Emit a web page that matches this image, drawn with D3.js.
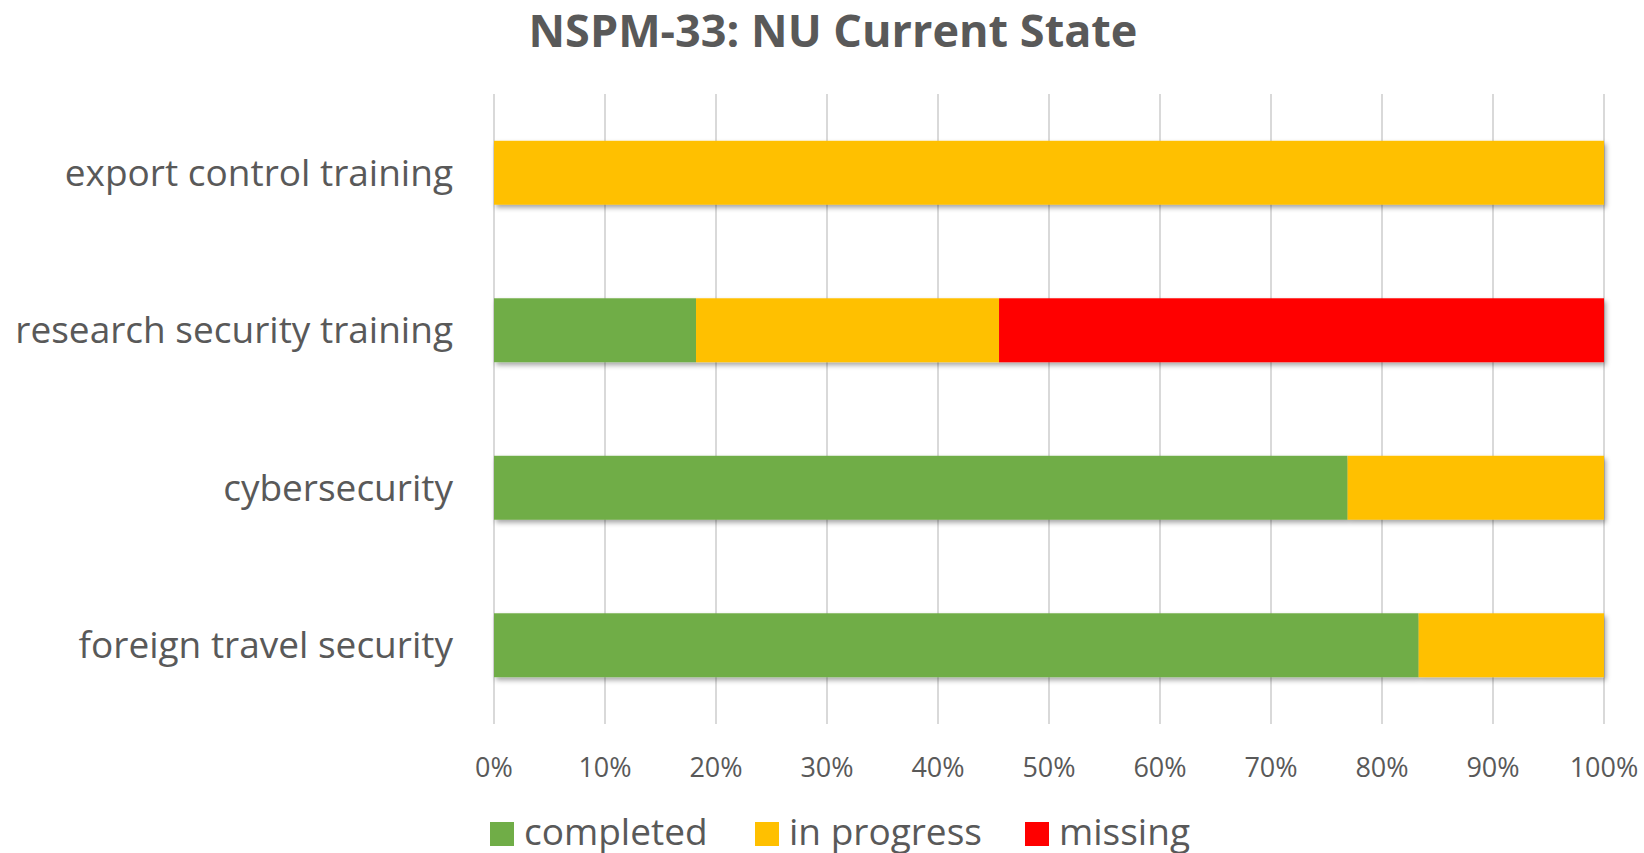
<!DOCTYPE html>
<html>
<head>
<meta charset="utf-8">
<script src="https://cdn.jsdelivr.net/npm/d3@7"></script>
<style>
  body { margin: 0; background: #fff; }
  text { font-family: "Open Sans", sans-serif; fill: #595959; }
</style>
</head>
<body>
<div id="chart"></div>
<script>
let categories = ["export control training", "research security training", "cybersecurity", "foreign travel security"]
let seriesNames = ["completed", "in progress", "missing"]
let completed = [0, 18.2, 76.9, 83.3]
let inProgress = [100, 27.3, 23.1, 16.7]
let missing = [0, 54.5, 0, 0]
let ticks = [0, 10, 20, 30, 40, 50, 60, 70, 80, 90, 100]
let colors = ["#70AD47", "#FFC000", "#FF0000"]

let width = 1644
let height = 853

let svg = d3.select("#chart")
    .append("svg")
    .attr("width", width)
    .attr("height", height)

// soft shadow under the bars
let filter = svg.append("defs").append("filter")
    .attr("id", "shadow")
    .attr("x", "-5%").attr("y", "-20%")
    .attr("width", "110%").attr("height", "160%")
filter.append("feDropShadow")
    .attr("dx", 2).attr("dy", 3)
    .attr("stdDeviation", 2.5)
    .attr("flood-color", "#000")
    .attr("flood-opacity", 0.35)

let x = d3.scaleLinear().domain([0, 100]).range([494, 1604])
let y = d3.scaleBand().domain(categories).range([94, 724])
    .paddingInner(0.594).paddingOuter(0.297)

// title
svg.append("text")
    .attr("x", 833)
    .attr("y", 47)
    .attr("text-anchor", "middle")
    .style("font-size", "45px")
    .style("font-weight", "bold")
    .text("NSPM-33: NU Current State")

// gridlines
svg.append("g")
    .selectAll("line")
    .data(ticks)
    .join("line")
    .attr("x1", d => x(d))
    .attr("x2", d => x(d))
    .attr("y1", 94)
    .attr("y2", 724)
    .attr("stroke", "#d9d9d9")
    .attr("stroke-width", 2)

// tick labels
svg.append("g")
    .selectAll("text")
    .data(ticks)
    .join("text")
    .attr("x", d => x(d))
    .attr("y", 777)
    .attr("text-anchor", "middle")
    .style("font-size", "27px")
    .text(d => d + "%")

// category labels
svg.append("g")
    .selectAll("text")
    .data(categories)
    .join("text")
    .attr("x", 453)
    .attr("y", d => y(d) + y.bandwidth() / 2)
    .attr("dy", 13)
    .attr("text-anchor", "end")
    .style("font-size", "37px")
    .text(d => d)

// stacked bars
let rows = categories.map((c, i) => ({
    category: c,
    "completed": completed[i],
    "in progress": inProgress[i],
    "missing": missing[i]
}))
let stacked = d3.stack().keys(seriesNames)(rows)

let bars = svg.append("g").attr("filter", "url(#shadow)")
bars.selectAll("g")
    .data(stacked)
    .join("g")
    .attr("fill", (d, i) => colors[i])
    .selectAll("rect")
    .data(d => d.filter(p => p[1] > p[0]))
    .join("rect")
    .attr("x", d => x(d[0]))
    .attr("width", d => x(d[1]) - x(d[0]))
    .attr("y", d => y(d.data.category))
    .attr("height", y.bandwidth())

// legend
let legendX = [490, 755, 1025]
let legend = svg.append("g")
    .selectAll("g")
    .data(seriesNames)
    .join("g")
    .attr("transform", (d, i) => "translate(" + legendX[i] + ",0)")
legend.append("rect")
    .attr("x", 0)
    .attr("y", 822)
    .attr("width", 24)
    .attr("height", 24)
    .attr("fill", (d, i) => colors[i])
legend.append("text")
    .attr("x", 34)
    .attr("y", 845)
    .style("font-size", "37px")
    .text(d => d)
</script>
</body>
</html>
